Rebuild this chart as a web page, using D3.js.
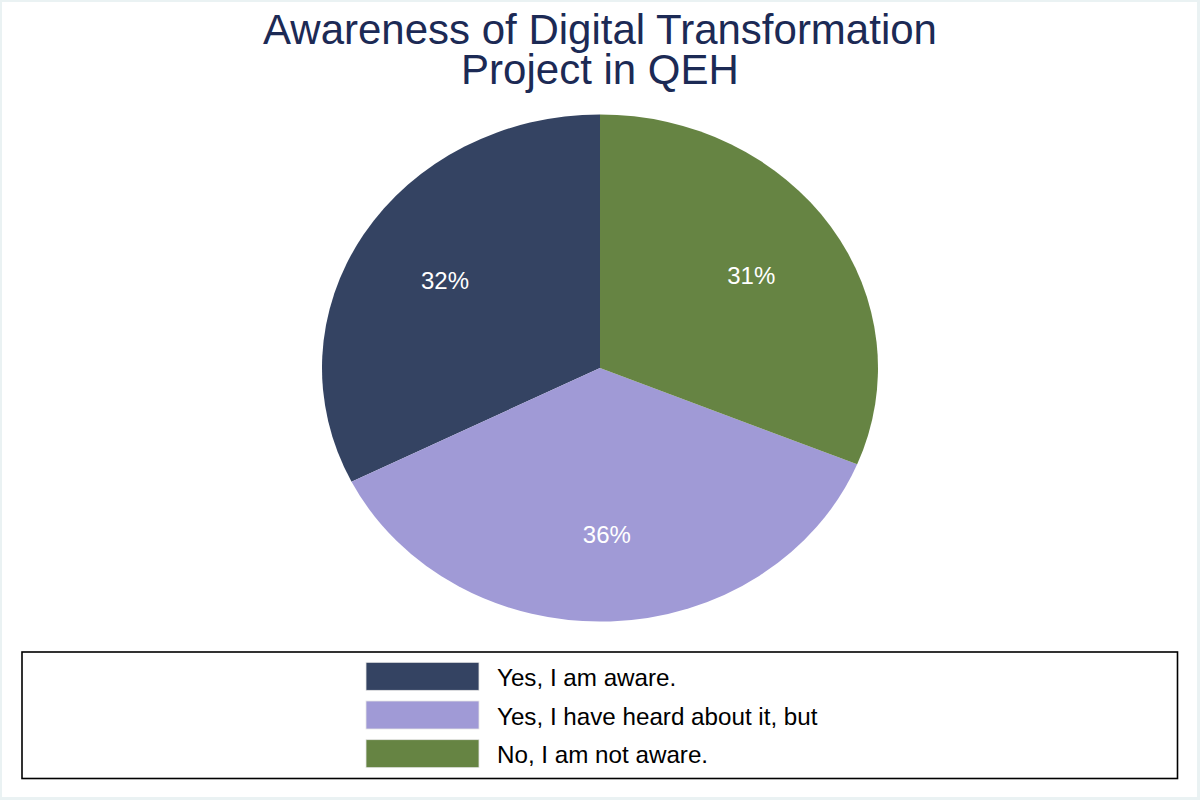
<!DOCTYPE html>
<html>
<head>
<meta charset="utf-8">
<script src="https://cdn.jsdelivr.net/npm/d3@7"></script>
<style>
  html, body { margin: 0; padding: 0; background: #fff; }
  svg { display: block; font-family: "Liberation Sans", Arial, Helvetica, sans-serif; }
</style>
</head>
<body>
<svg id="chart" width="1200" height="800"></svg>
<script>
const titleLines = ["Awareness of Digital Transformation", "Project in QEH"];
const categories = ["Yes, I am aware.", "Yes, I have heard about it, but", "No, I am not aware."];
const percents = [32.4, 36.4, 31.2];
const colors = ["#344362", "#a09ad6", "#668443"];

const W = 1200, H = 800;
const svg = d3.select("#chart");

// graph region background (Stata style)
svg.append("rect").attr("x", 0).attr("y", 0).attr("width", W).attr("height", H).attr("fill", "#eaf2f3");
svg.append("rect").attr("x", 2).attr("y", 2).attr("width", 1195).attr("height", 795).attr("fill", "#ffffff");

// title
svg.append("g").selectAll("text").data(titleLines).join("text")
  .attr("x", 600)
  .attr("y", (d, i) => 44 + i * 39.5)
  .attr("text-anchor", "middle")
  .attr("fill", "#1c2a55")
  .attr("font-size", 42)
  .text(d => d);

// pie (elliptical as in the original)
const cx = 600, cy = 368, rx = 278, ry = 253.6;
const data = categories.map((c, i) => ({ cat: c, value: percents[i], color: colors[i] }));
const pie = d3.pie().value(d => d.value).sort(null).startAngle(0).endAngle(-2 * Math.PI);
const arcs = pie(data);
const arc = d3.arc().innerRadius(0).outerRadius(ry);
const labelArc = d3.arc().innerRadius(ry * 0.655).outerRadius(ry * 0.655);
const sx = rx / ry;

svg.append("g")
  .attr("transform", `translate(${cx},${cy}) scale(${sx},1)`)
  .selectAll("path").data(arcs).join("path")
  .attr("d", arc)
  .attr("fill", d => d.data.color);

const fmt = d3.format(".0f");
svg.append("g").selectAll("text").data(arcs).join("text")
  .attr("x", d => cx + labelArc.centroid(d)[0] * sx)
  .attr("y", d => cy + labelArc.centroid(d)[1])
  .attr("dy", "0.36em")
  .attr("text-anchor", "middle")
  .attr("fill", "#ffffff")
  .attr("font-size", 24)
  .text(d => fmt(d.data.value) + "%");

// legend
svg.append("rect")
  .attr("x", 22).attr("y", 652).attr("width", 1155.5).attr("height", 126.5)
  .attr("fill", "#fff").attr("stroke", "#000").attr("stroke-width", 1.6);

const ly = d3.scaleBand().domain(categories).range([657, 773]).paddingInner(0.28).paddingOuter(0.14);
const lg = svg.append("g");
lg.selectAll("rect.sw").data(data).join("rect")
  .attr("class", "sw")
  .attr("x", 366).attr("width", 113)
  .attr("y", d => ly(d.cat) + ly.bandwidth() / 2 - 14)
  .attr("height", 28)
  .attr("fill", d => d.color)
  .attr("stroke", "#e6e6e6").attr("stroke-width", 0.8);
lg.selectAll("text").data(data).join("text")
  .attr("x", 497)
  .attr("y", d => ly(d.cat) + ly.bandwidth() / 2 + 9.5)
  .attr("fill", "#000")
  .attr("font-size", 24.2)
  .text(d => d.cat);
</script>
</body>
</html>
